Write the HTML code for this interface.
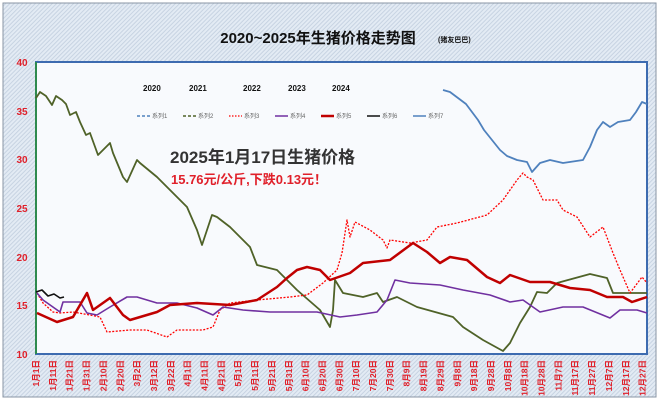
<!DOCTYPE html>
<html><head><meta charset="utf-8"><style>
body{margin:0;width:660px;height:412px;background:#fff;overflow:hidden}
</style></head><body>
<svg width="660" height="412" viewBox="0 0 660 412" xmlns="http://www.w3.org/2000/svg" font-family="Liberation Sans, Noto Sans CJK SC, sans-serif">
<defs>
<pattern id="h" width="3" height="3" patternUnits="userSpaceOnUse" patternTransform="rotate(45)">
<rect width="3" height="3" fill="#e3ebf4"/><rect width="1" height="3" fill="#c7d3e2"/></pattern>
</defs>
<rect x="3" y="3" width="653" height="394" fill="url(#h)" stroke="#8a96a4" stroke-width="1"/>
<rect x="36" y="62" width="611" height="292" fill="#f8fafd" stroke="#3d6bb0" stroke-width="2"/>
<line x1="36" y1="62" x2="36" y2="354" stroke="#2e8a4e" stroke-width="2"/>
<text x="318" y="43" font-size="15" font-weight="bold" text-anchor="middle" fill="#111">2020~2025年生猪价格走势图</text>
<text x="438" y="42" font-size="7" font-weight="bold" fill="#111">(猪友巴巴)</text>
<g font-size="10" font-weight="bold" fill="#e0202a" text-anchor="middle">
<text x="22" y="66">40</text><text x="22" y="115">35</text><text x="22" y="163">30</text><text x="22" y="212">25</text><text x="22" y="261">20</text><text x="22" y="309">15</text><text x="22" y="358">10</text>
</g>
<g font-size="8" font-weight="bold" fill="#111">
<text x="143" y="91">2020</text><text x="189" y="91">2021</text><text x="243" y="91">2022</text><text x="288" y="91">2023</text><text x="332" y="91">2024</text>
</g>
<g font-size="6" fill="#666">
<line x1="137" y1="116" x2="150" y2="116" stroke="#4f81bd" stroke-width="1.5" stroke-dasharray="3,2"/><text x="152" y="118">系列1</text>
<line x1="183" y1="116" x2="196" y2="116" stroke="#4f6228" stroke-width="1.5" stroke-dasharray="3,2"/><text x="198" y="118">系列2</text>
<line x1="229" y1="116" x2="242" y2="116" stroke="#ff0000" stroke-width="1.2" stroke-dasharray="1.5,1.5"/><text x="244" y="118">系列3</text>
<line x1="275" y1="116" x2="288" y2="116" stroke="#7030a0" stroke-width="1.5"/><text x="290" y="118">系列4</text>
<line x1="321" y1="116" x2="334" y2="116" stroke="#c00000" stroke-width="2.5"/><text x="336" y="118">系列5</text>
<line x1="367" y1="116" x2="380" y2="116" stroke="#111" stroke-width="1.5"/><text x="382" y="118">系列6</text>
<line x1="413" y1="116" x2="426" y2="116" stroke="#4f81bd" stroke-width="1.5"/><text x="428" y="118">系列7</text>
</g>
<text x="170" y="163" font-size="17" font-weight="bold" fill="#333">2025年1月17日生猪价格</text>
<text x="171" y="184" font-size="13" font-weight="bold" fill="#e0202a">15.76元/公斤,下跌0.13元！</text>
<g fill="none" stroke-linejoin="round">
<polyline stroke="#4f6228" stroke-width="1.8" points="36,98 40,92 46,96 52,105 56,96 62,100 66,104 70,115 76,112 80,122 86,135 90,133 98,155 110,143 113,153 123,177 127,182 137,160 140,163 157,177 170,190 187,207 197,230 202,245 212,215 217,217 230,227 250,247 257,265 277,270 297,290 320,310 330,327 333,310 335,280 343,293 363,297 377,293 383,302 397,297 417,307 453,317 463,327 483,340 503,351 510,343 520,323 530,307 537,292 547,293 557,283 590,274 607,278 613,293 623,293 647,293"/>
<polyline stroke="#ff0000" stroke-width="1.3" stroke-dasharray="2,1.5" points="37,293 43,303 53,312 60,313 73,312 90,315 100,317 107,332 130,330 147,330 167,337 177,330 203,330 213,327 220,310 230,303 257,300 290,297 307,295 323,283 337,270 342,253 347,220 350,237 355,222 370,230 383,240 387,248 390,240 410,243 427,240 437,227 457,223 487,215 503,200 517,180 523,173 527,177 533,180 543,200 557,200 563,210 577,217 590,237 603,227 613,253 620,270 630,293 642,277 647,283"/>
<polyline stroke="#7030a0" stroke-width="1.6" points="37,293 43,300 60,312 63,302 80,302 87,313 97,315 110,307 127,297 137,297 157,303 177,303 197,308 213,315 223,307 243,310 270,312 317,312 340,317 357,315 377,312 387,300 395,280 410,283 440,285 463,290 490,295 510,302 523,300 540,312 563,307 583,307 610,318 620,310 637,310 647,313"/>
<polyline stroke="#c00000" stroke-width="2.5" points="37,313 57,322 73,317 87,293 93,310 110,298 123,315 130,320 157,312 170,305 197,303 230,305 257,300 277,287 287,278 297,270 307,267 320,270 330,280 350,273 363,263 390,260 413,243 427,252 440,263 450,257 467,260 487,277 500,283 510,275 530,282 550,282 570,288 590,290 607,297 623,297 632,302 647,297"/>
<polyline stroke="#111" stroke-width="1.6" points="36,292 42,290 48,296 54,294 60,298 64,297"/>
<polyline stroke="#4f81bd" stroke-width="1.8" points="443,90 450,92 458,98 466,104 472,112 478,120 484,130 492,140 500,150 507,156 517,160 527,162 532,172 540,163 550,160 563,163 583,160 590,147 597,130 603,122 610,127 618,122 630,120 636,112 642,102 647,104"/>
</g>
<g font-size="8.5" font-weight="bold" fill="#e0202a" id="xl"></g>
</svg>
<script>
var L=["1月1日","1月11日","1月21日","1月31日","2月10日","2月20日","3月2日","3月12日","3月22日","4月1日","4月11日","4月21日","5月1日","5月11日","5月21日","5月31日","6月10日","6月20日","6月30日","7月10日","7月20日","7月30日","8月9日","8月19日","8月29日","9月8日","9月18日","9月28日","10月8日","10月18日","10月28日","11月7日","11月17日","11月27日","12月7日","12月17日","12月27日"];
var g=document.getElementById('xl'),s="";
for(var i=0;i<L.length;i++){var x=39+i*16.85;s+='<text transform="translate('+x+',360) rotate(-90)" text-anchor="end">'+L[i]+'</text>';}
g.innerHTML=s;
</script>
</body></html>
